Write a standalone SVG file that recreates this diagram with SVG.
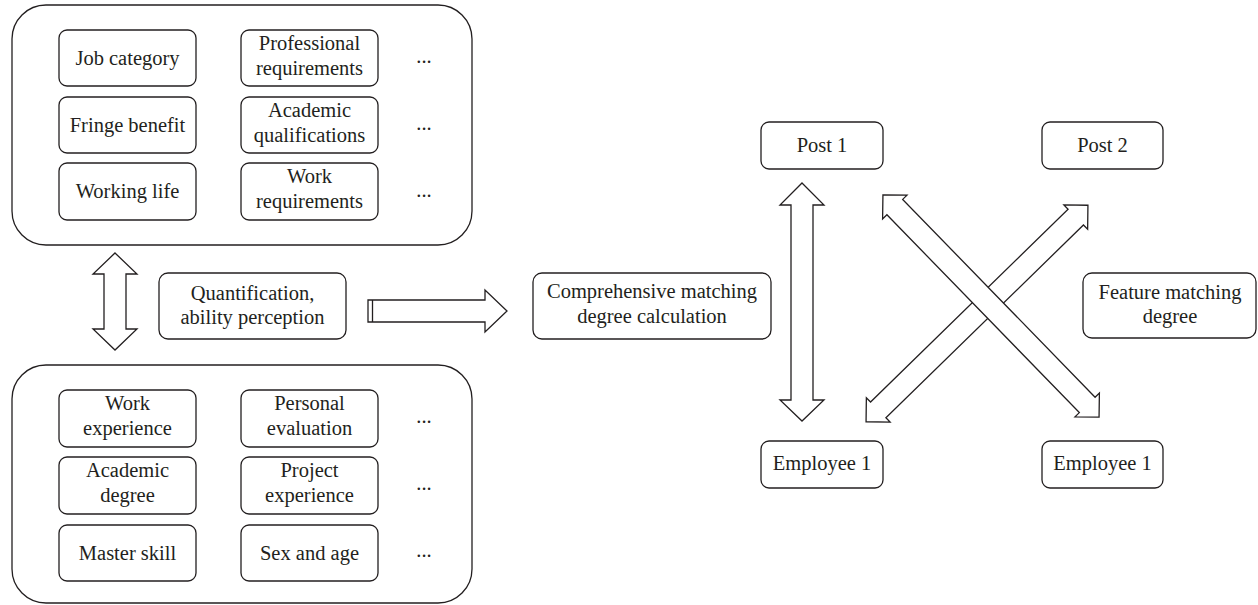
<svg xmlns="http://www.w3.org/2000/svg" width="1258" height="605" viewBox="0 0 1258 605">
<style>
.box{fill:#fff;stroke:#231f20;stroke-width:1.3}
.outer{fill:#fff;stroke:#231f20;stroke-width:1.3}
.arr{fill:#fff;stroke:#231f20;stroke-width:1.3;stroke-linejoin:miter}
text{font-family:"Liberation Serif","Times New Roman",serif;font-size:20.5px;fill:#231f20;text-anchor:middle}
</style>
<rect width="1258" height="605" fill="#fff"/>
<g id="job-group">
<rect class="outer" x="12" y="5" width="460" height="240" rx="34"/>
<g id="job-category"><rect class="box" x="59" y="30" width="137" height="56" rx="8"/><text x="127.5" y="65">Job category</text></g>
<g id="fringe-benefit"><rect class="box" x="59" y="97" width="137" height="56" rx="8"/><text x="127.5" y="132">Fringe benefit</text></g>
<g id="working-life"><rect class="box" x="59" y="163" width="137" height="57" rx="8"/><text x="127.5" y="198">Working life</text></g>
<g id="professional-req"><rect class="box" x="241" y="30" width="137" height="56" rx="8"/><text x="309.5" y="50">Professional</text><text x="309.5" y="75">requirements</text></g>
<g id="academic-qual"><rect class="box" x="241" y="97" width="137" height="56" rx="8"/><text x="309.5" y="117">Academic</text><text x="309.5" y="142">qualifications</text></g>
<g id="work-req"><rect class="box" x="241" y="163" width="137" height="57" rx="8"/><text x="309.5" y="183">Work</text><text x="309.5" y="208">requirements</text></g>
<text x="424" y="63">...</text>
<text x="424" y="130">...</text>
<text x="424" y="197">...</text>
</g>
<g id="employee-group">
<rect class="outer" x="12" y="365" width="460" height="238" rx="34"/>
<g id="work-exp"><rect class="box" x="59" y="390" width="137" height="57" rx="8"/><text x="127.5" y="410">Work</text><text x="127.5" y="435">experience</text></g>
<g id="academic-degree"><rect class="box" x="59" y="457" width="137" height="57" rx="8"/><text x="127.5" y="477">Academic</text><text x="127.5" y="502">degree</text></g>
<g id="master-skill"><rect class="box" x="59" y="525" width="137" height="56" rx="8"/><text x="127.5" y="560">Master skill</text></g>
<g id="personal-eval"><rect class="box" x="241" y="390" width="137" height="57" rx="8"/><text x="309.5" y="410">Personal</text><text x="309.5" y="435">evaluation</text></g>
<g id="project-exp"><rect class="box" x="241" y="457" width="137" height="57" rx="8"/><text x="309.5" y="477">Project</text><text x="309.5" y="502">experience</text></g>
<g id="sex-age"><rect class="box" x="241" y="525" width="137" height="56" rx="8"/><text x="309.5" y="560">Sex and age</text></g>
<text x="424" y="423">...</text>
<text x="424" y="490">...</text>
<text x="424" y="557">...</text>
</g>
<g id="quantification"><rect class="box" x="159" y="273" width="187" height="66" rx="9"/><text x="252.5" y="300">Quantification,</text><text x="252.5" y="324">ability perception</text></g>
<g id="comprehensive"><rect class="box" x="533" y="273" width="238" height="66" rx="9"/><text x="652" y="298">Comprehensive matching</text><text x="652" y="323">degree calculation</text></g>
<g id="post1"><rect class="box" x="761" y="122" width="122" height="47" rx="8"/><text x="822" y="152">Post 1</text></g>
<g id="post2"><rect class="box" x="1042" y="122" width="121" height="47" rx="8"/><text x="1102.5" y="152">Post 2</text></g>
<g id="employee1a"><rect class="box" x="761" y="441" width="122" height="47" rx="8"/><text x="822" y="470">Employee 1</text></g>
<g id="employee1b"><rect class="box" x="1042" y="441" width="121" height="47" rx="8"/><text x="1102.5" y="470">Employee 1</text></g>
<g id="feature"><rect class="box" x="1083" y="273" width="173" height="65" rx="9"/><text x="1170" y="299">Feature matching</text><text x="1170" y="323">degree</text></g>
<g id="connectors">
<polygon class="arr" points="115,253 137,274 126,274 126,329 137,329 115,350 93,329 104,329 104,274 93,274"/>
<polygon class="arr" points="368,300 485,300 485,290 507,311 485,332 485,322 368,322"/>
<line x1="372.5" y1="300" x2="372.5" y2="322" stroke="#231f20" stroke-width="1.3"/>
<polygon class="arr" points="802,183 824,205 813,205 813,400 824,400 802,421 780,400 791,400 791,205 780,205"/>
<path class="arr" transform="translate(977,313.5) rotate(-44.3)" d="M-155,0 L-138,-17 L-138,-11 L138,-11 L138,-17 L155,0 L138,17 L138,11 L-138,11 L-138,17 Z"/>
<path class="arr" transform="translate(991,306) rotate(45.8)" d="M-155,0 L-138,-17 L-138,-11 L138,-11 L138,-17 L155,0 L138,17 L138,11 L-138,11 L-138,17 Z"/>
</g>
</svg>
